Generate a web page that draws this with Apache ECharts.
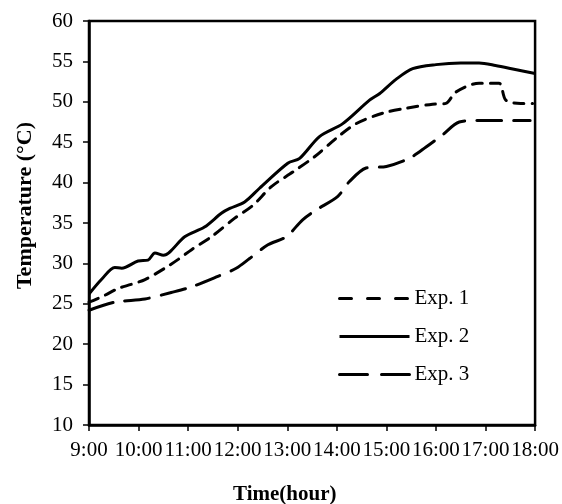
<!DOCTYPE html>
<html>
<head>
<meta charset="utf-8">
<script src="https://cdn.jsdelivr.net/npm/echarts@6/dist/echarts.min.js"></script>
<style>html,body{margin:0;padding:0;background:#fff}#c{width:562px;height:504px}</style>
</head>
<body>
<div id="c"></div>
<script>
// Time in hours (9 = 9:00) and temperature (°C)
var exp1Hours = [9.0, 9.3, 9.59, 9.85, 10.13, 10.53, 10.8, 11.07, 11.47, 11.94, 12.31, 12.68, 13.11, 13.55, 13.99, 14.39, 14.93, 15.4, 15.93, 16.2, 16.4, 16.87, 17.27, 17.41, 17.71, 17.95];
var exp1Temps = [25.2, 26.0, 26.9, 27.4, 28.0, 29.4, 30.5, 31.7, 33.3, 35.6, 37.2, 39.5, 41.3, 43.2, 45.5, 47.3, 48.6, 49.2, 49.7, 49.8, 51.2, 52.3, 52.3, 50.2, 49.8, 49.8];

var exp2Hours = [9.0, 9.25, 9.52, 9.66, 9.99, 10.19, 10.33, 10.5, 10.93, 11.33, 11.67, 11.84, 12.14, 12.44, 13.01, 13.25, 13.65, 14.12, 14.66, 14.86, 15.2, 15.53, 16.0, 16.5, 16.87, 17.2, 17.6, 18.0];
var exp2Temps = [26.2, 28.0, 29.5, 29.4, 30.3, 30.4, 31.3, 31.0, 33.3, 34.5, 36.2, 36.8, 37.6, 39.3, 42.4, 43.0, 45.7, 47.3, 50.2, 51.0, 52.8, 54.1, 54.6, 54.8, 54.8, 54.5, 54.0, 53.5];

var exp3Hours = [9.0, 9.52, 10.13, 10.66, 11.07, 11.6, 11.97, 12.24, 12.61, 12.98, 13.31, 13.58, 14.02, 14.25, 14.59, 15.0, 15.46, 15.8, 16.13, 16.47, 16.87, 17.3, 17.9];
var exp3Temps = [24.2, 25.2, 25.6, 26.4, 27.1, 28.4, 29.4, 30.6, 32.3, 33.3, 35.4, 36.6, 38.3, 40.1, 41.8, 42.0, 43.0, 44.4, 45.9, 47.5, 47.7, 47.7, 47.7];

var seriesNames = ['Exp. 1', 'Exp. 2', 'Exp. 3'];
var yTicks = {min: 10, max: 60, step: 5};
var xTicks = {min: 9, max: 18, step: 1};

function pairs(h, t) { return h.map(function (v, i) { return [v, t[i]]; }); }

var font = 'Liberation Serif, Times New Roman, serif';
var chart = echarts.init(document.getElementById('c'));
chart.setOption({
  animation: false,
  backgroundColor: '#fff',
  grid: {left: 89, right: 26, top: 21, bottom: 79, show: true, borderColor: '#000', borderWidth: 2.5},
  xAxis: {
    type: 'value', min: xTicks.min, max: xTicks.max, interval: xTicks.step,
    axisLine: {show: true, lineStyle: {color: '#000', width: 2.5}},
    axisTick: {show: true, inside: false, length: 6, lineStyle: {color: '#000', width: 1.5}},
    splitLine: {show: false},
    axisLabel: {color: '#000', fontFamily: font, fontSize: 21, margin: 15, hideOverlap: false,
      formatter: function (v) { return Math.round(v) + ':00'; }}
  },
  yAxis: {
    type: 'value', min: yTicks.min, max: yTicks.max, interval: yTicks.step,
    axisLine: {show: true, lineStyle: {color: '#000', width: 2.5}},
    axisTick: {show: true, inside: false, length: 6, lineStyle: {color: '#000', width: 1.5}},
    splitLine: {show: false},
    axisLabel: {color: '#000', fontFamily: font, fontSize: 21, margin: 16}
  },
  legend: {
    orient: 'vertical', left: 338, top: 288, padding: 0, itemWidth: 70, itemHeight: 20, itemGap: 17,
    itemStyle: {opacity: 0},
    textStyle: {color: '#000', fontFamily: font, fontSize: 21},
    data: [
      {name: seriesNames[0], lineStyle: {type: [12, 16], width: 3, cap: 'round', color: '#000'}},
      {name: seriesNames[1], lineStyle: {type: 'solid', width: 3, color: '#000'}},
      {name: seriesNames[2], lineStyle: {type: [28, 14], width: 3, cap: 'round', color: '#000'}}
    ]
  },
  graphic: [
    {type: 'text', left: 14, top: 122, rotation: Math.PI / 2,
      style: {text: 'Temperature (°C)', font: 'bold 22px ' + font, fill: '#000'}},
    {type: 'text', left: 233, top: 484,
      style: {text: 'Time(hour)', font: 'bold 21px ' + font, fill: '#000'}}
  ],
  series: [
    {name: seriesNames[0], type: 'line', symbol: 'none', smooth: 0.3, data: pairs(exp1Hours, exp1Temps),
      lineStyle: {color: '#000', width: 3, type: [10, 8], cap: 'round'}, itemStyle: {color: '#000'}},
    {name: seriesNames[1], type: 'line', symbol: 'none', smooth: 0.3, data: pairs(exp2Hours, exp2Temps),
      lineStyle: {color: '#000', width: 3, type: 'solid'}, itemStyle: {color: '#000'}},
    {name: seriesNames[2], type: 'line', symbol: 'none', smooth: 0.3, data: pairs(exp3Hours, exp3Temps),
      lineStyle: {color: '#000', width: 3, type: [25, 12], cap: 'round'}, itemStyle: {color: '#000'}}
  ]
});
</script>
</body>
</html>
